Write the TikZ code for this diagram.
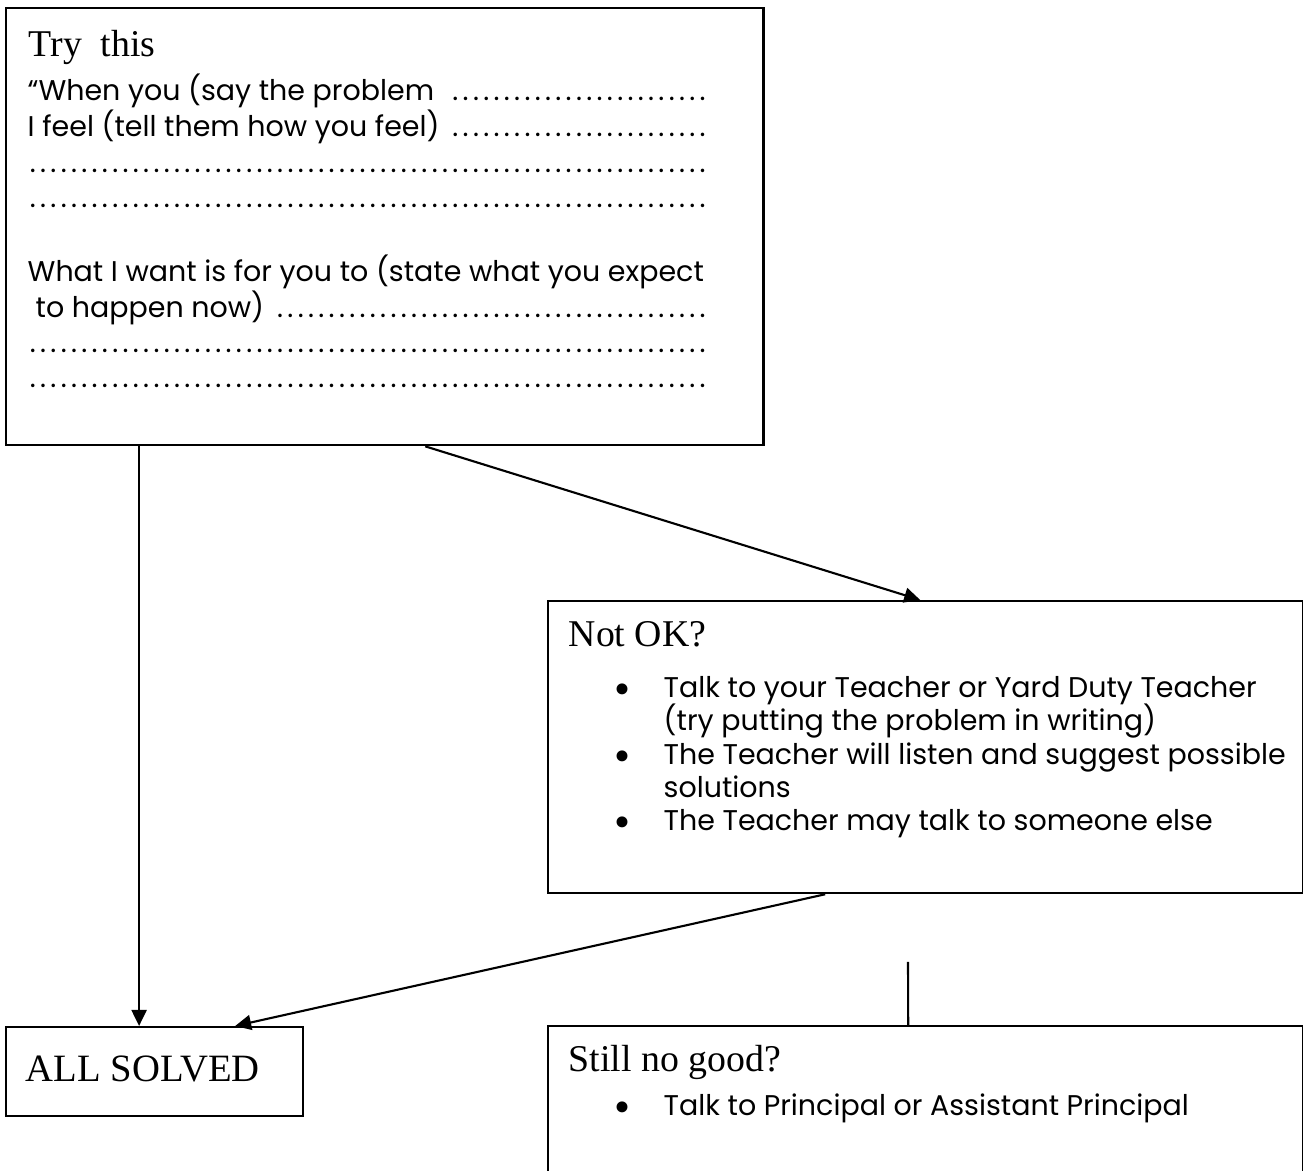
\documentclass[tikz,border=0pt]{standalone}
\usepackage{fontspec}
\setmainfont{Liberation Serif}
\newfontfamily\gothic{Poppins}
\usetikzlibrary{arrows.meta}
\newcommand\dotline[1]{\makebox[6.8cm][l]{#1\leaders\hbox to 0.103cm{\hss.\hss}\hfill}}

\begin{document}
\begin{tikzpicture}[x=0.01cm,y=-0.01cm,
    box/.style={draw,line width=0.6pt,inner sep=0pt,anchor=north west},
    head/.style={anchor=base west,inner sep=0pt,font=\fontsize{10.75}{13}\selectfont},
    body/.style={anchor=base west,inner sep=0pt,font=\gothic\fontsize{8.1}{10}\selectfont},
    bul/.style={anchor=base,inner sep=0pt,font=\fontsize{13}{15}\selectfont},
    arr/.style={line width=0.6pt,-{Triangle[length=1.6mm,width=1.5mm]}}]
  \useasboundingbox (0,0) rectangle (1303,1171);
  \clip (0,0) rectangle (1303,1171);

  % Try this
  \node[box,minimum width=7.57cm,minimum height=4.37cm] (try) at (5,7) {};
  \node[head] (tryhead) at (28,57) {Try\enspace this};
  \node[body] (when) at (27,101) {\dotline{“When you (say the problem }};
  \node[body] (feel) at (27,137) {\dotline{I feel (tell them how you feel) }};
  \node[body] (dotsa) at (27,173) {\dotline{}};
  \node[body] (dotsb) at (27,208) {\dotline{}};
  \node[body] (want) at (27,282) {What I want is for you to (state what you expect};
  \node[body] (happen) at (27,318) {\dotline{\hspace*{0.08cm}to happen now) }};
  \node[body] (dotsc) at (27,353) {\dotline{}};
  \node[body] (dotsd) at (27,388) {\dotline{}};

  % Not OK
  \node[box,minimum width=7.55cm,minimum height=2.92cm] (notok) at (547,600) {};
  \node[head] (notokhead) at (568,647) {Not OK?};
  \node[bul] (bula) at (622,705) {\textbullet};
  \node[body] (talk) at (663,698) {Talk to your Teacher or Yard Duty Teacher};
  \node[body] (writing) at (663,731) {(try putting the problem in writing)};
  \node[bul] (bulb) at (622,772) {\textbullet};
  \node[body] (listen) at (663,765) {The Teacher will listen and suggest possible};
  \node[body] (solutions) at (663,798) {solutions};
  \node[bul] (bulc) at (622,838) {\textbullet};
  \node[body] (else) at (663,831) {The Teacher may talk to someone else};

  % All solved
  \node[box,minimum width=2.97cm,minimum height=0.89cm] (solved) at (5,1026) {};
  \node[head,font=\fontsize{11}{13}\selectfont] (solvedtext) at (25,1082) {ALL SOLVED};

  % Still no good
  \node[box,minimum width=7.55cm,minimum height=2cm] (nogood) at (547,1025) {};
  \node[head] (nogoodhead) at (568,1072) {Still no good?};
  \node[bul] (buld) at (622,1123) {\textbullet};
  \node[body] (principal) at (663,1116) {Talk to Principal or Assistant Principal};

  % Connectors
  \draw[arr] ([xshift=1.34cm]try.south west) -- ([xshift=1.34cm]solved.north west);
  \draw[arr] ([xshift=4.2cm]try.south west) -- ([xshift=3.73cm]notok.north west);
  \draw[arr] ([xshift=2.78cm]notok.south west) -- ([xshift=2.3cm]solved.north west);
  \coordinate (stub) at (908,962);
  \draw[line width=0.6pt] ([xshift=3.61cm]nogood.north west) -- (stub);
\end{tikzpicture}
\end{document}
